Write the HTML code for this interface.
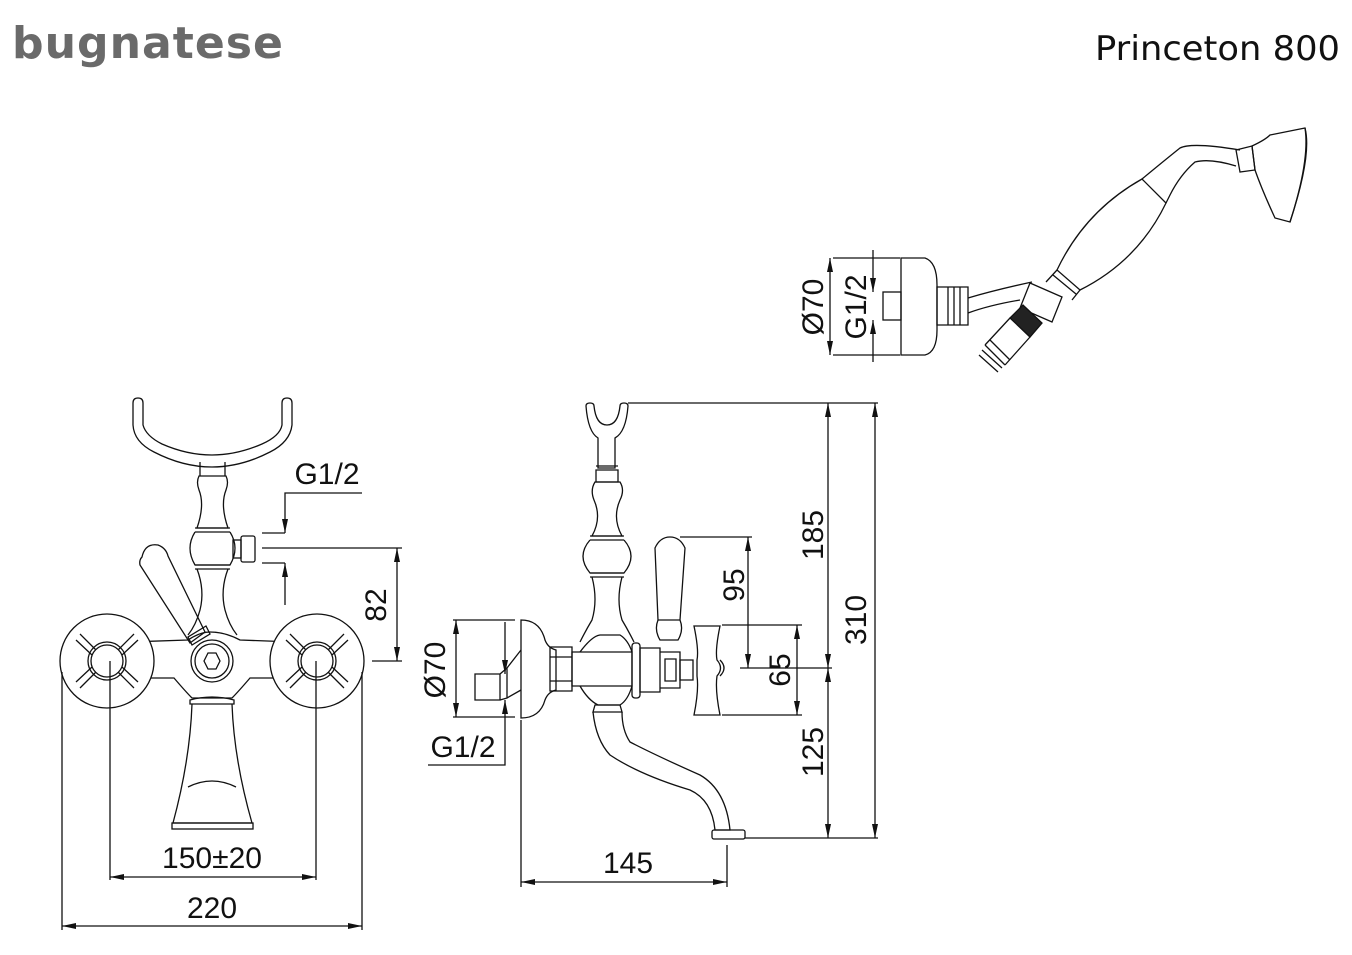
<!DOCTYPE html>
<html><head><meta charset="utf-8"><style>
html,body{margin:0;padding:0;background:#fff;width:1352px;height:955px;overflow:hidden}
svg{display:block}
.t{font-family:"Liberation Sans",Arial,sans-serif;font-size:30px;fill:#111}
</style></head><body>
<svg width="1352" height="955" viewBox="0 0 1352 955" xmlns="http://www.w3.org/2000/svg">
<defs>
<marker id="a" viewBox="0 0 14 6" refX="14" refY="3" markerWidth="14" markerHeight="6" orient="auto-start-reverse" markerUnits="userSpaceOnUse"><path d="M0,0 L14,3 L0,6 Z" fill="#111"/></marker>
</defs>
<text x="12" y="58" style="font-family:'DejaVu Sans','Liberation Sans',sans-serif;font-size:44px;font-weight:bold;fill:#6a6a6a;letter-spacing:1px" textLength="272" lengthAdjust="spacingAndGlyphs">bugnatese</text>
<text x="1095" y="60" style="font-family:'DejaVu Sans','Liberation Sans',sans-serif;font-size:34px;fill:#111" textLength="245" lengthAdjust="spacingAndGlyphs">Princeton 800</text>

<g fill="none" stroke="#111" stroke-width="1.3">
<!-- LEFT VIEW -->
<path d="M133,403 Q133,398 138,398 Q143,398 143,403 L143,425 Q146,436 162,444 Q212,466 262,444 Q280,436 282,425 L282,403 Q282,398 287,398 Q292,398 292,403 L292,425 Q290,442 270,452 Q212,482 154,452 Q134,442 133,425 Z"/>
<path d="M200,462 L200,476 M225,462 L225,476"/>
<path d="M199,476 L226,476 Q229,482 226,490 Q220,505 228,528 L197,528 Q205,505 199,490 Q196,482 199,476Z"/>
<path d="M195,528 L230,528 M195,532 L230,532"/>
<path d="M195,532 Q185,548 195,565 L230,565 Q240,548 230,532"/>
<path d="M195,565 L230,565 M195,569 L230,569"/>
<path d="M197,569 Q205,590 200,610 Q196,625 188,635 M228,569 Q220,590 225,610 Q229,625 237,635"/>
<rect x="233" y="540" width="8" height="18"/><rect x="241" y="536" width="14" height="26" rx="2"/>
<path d="M142,557 Q145,543 158,545 Q166,548 168,556 L205,632 L190,643 L140,565 Q139,560 142,557Z"/>
<path d="M188,637 L206,626 L210,634 L192,645Z"/>
<path d="M100,643 L188,640 Q200,632 210,632 Q225,632 240,640 L320,643 L320,678 L250,678 Q238,692 232,698 L192,698 Q186,692 174,678 L100,678 Z"/>
<circle cx="212" cy="661" r="21"/><circle cx="212" cy="661" r="17"/>
<path d="M204,661 L208,653 L216,653 L220,661 L216,669 L208,669Z"/>
<circle cx="107" cy="661" r="47" fill="#fff"/><circle cx="317" cy="661" r="47" fill="#fff"/>
<g id="cr">
<path d="M80,634 L96,650 M76,640 L92,655 M134,634 L118,650 M138,640 L122,655 M80,688 L96,672 M76,682 L92,667 M134,688 L118,672 M138,682 L122,667"/>
<circle cx="107" cy="661" r="19"/><circle cx="107" cy="661" r="16"/>
</g>
<use href="#cr" transform="translate(210,0)"/>
<path d="M190,700 Q212,694 234,700 L234,704 L190,704Z"/>
<path d="M192,704 Q190,760 173,823 L252,823 Q234,760 232,704"/>
<path d="M188,787 Q212,775 236,787"/>
<rect x="172" y="823" width="81" height="6"/>
<!-- left dims -->
<path d="M62,672 L62,930 M110,661 L110,880 M316,661 L316,880 M362,672 L362,930"/>
<path d="M110,877 L316,877" marker-start="url(#a)" marker-end="url(#a)"/>
<path d="M62,926 L362,926" marker-start="url(#a)" marker-end="url(#a)"/>
<path d="M262,548 L402,548 M372,661 L402,661"/>
<path d="M397,548 L397,661" marker-start="url(#a)" marker-end="url(#a)"/>
<path d="M262,533 L285,533 M262,563 L285,563"/>
<path d="M362,493 L285,493 L285,533" marker-end="url(#a)"/>
<path d="M285,605 L285,563" marker-end="url(#a)"/>

<!-- MIDDLE VIEW -->
<path d="M586,406 Q586,403 590,403 Q594,403 594,406 Q596,425 607,425 Q618,425 620,406 Q620,403 624,403 Q628,403 628,406 Q626,432 615,438 L615,468 L598,468 L598,438 Q588,432 586,406Z"/>
<path d="M596,466 L618,466 M596,470 L618,470 L618,482 L596,482 Z"/>
<path d="M595,482 L620,482 Q625,490 620,500 Q612,518 622,536 L592,536 Q602,518 594,500 Q590,490 595,482Z"/>
<path d="M590,536 L624,536 M590,540 L624,540"/>
<path d="M590,540 Q576,556 590,573 L624,573 Q638,556 624,540"/>
<path d="M590,573 L624,573 M590,577 L624,577"/>
<path d="M592,577 Q598,600 592,620 Q586,630 580,642 M622,577 Q616,600 622,620 Q628,630 634,642"/>
<path d="M521,620 Q540,620 545,640 Q548,648 556,650 L556,690 Q548,692 545,700 Q540,718 521,718 Z"/>
<path d="M550,647 L572,647 L572,691 L550,691 Z M550,657 L572,657 M550,681 L572,681"/>
<path d="M572,652 L632,652 L632,686 L572,686 Z"/>
<path d="M580,652 Q592,636 600,635 L620,635 Q628,640 632,652 M580,686 Q588,700 598,705 L620,705 Q628,700 632,686"/>
<path d="M595,705 L620,705 L622,712 L593,712 Z"/>
<path d="M593,712 Q596,740 610,755 Q640,775 690,790 Q712,800 715,830 L730,830 Q726,790 700,775 Q655,755 630,742 Q622,730 622,712"/>
<rect x="712" y="830" width="33" height="9" rx="2"/>
<rect x="632" y="643" width="8" height="55" rx="3"/>
<path d="M640,648 L660,648 L660,692 L640,692 Z M660,652 L680,652 L680,688 L660,688 Z M665,659 L676,659 L676,681 L665,681 Z"/>
<path d="M680,660 L693,660 L693,680 L680,680Z"/>
<path d="M694,626 L720,626 Q715,650 717,660 Q724,668 717,676 Q715,690 720,715 L694,715 Q699,690 697,676 L697,660 Q699,650 694,626Z"/>
<path d="M720,660 Q728,668 720,676"/>
<path d="M655,548 Q660,537 670,537 Q680,537 685,548 L680,620 Q684,630 678,640 L660,640 Q654,630 658,620 Z"/>
<path d="M658,620 L680,620"/>
<path d="M475,674 L500,674 L500,700 L475,700 Z M500,674 L507,668 L521,650 M500,700 L507,698 L521,690 M507,668 L507,698"/>
<!-- middle dims -->
<path d="M628,403 L878,403"/>
<path d="M828,403 L828,668" marker-start="url(#a)" marker-end="url(#a)"/>
<path d="M828,668 L828,838" marker-start="url(#a)" marker-end="url(#a)"/>
<path d="M875,403 L875,838" marker-start="url(#a)" marker-end="url(#a)"/>
<path d="M745,838 L878,838"/>
<path d="M680,537 L752,537 M740,668 L832,668"/>
<path d="M748,537 L748,668" marker-start="url(#a)" marker-end="url(#a)"/>
<path d="M722,625 L802,625 M722,715 L802,715"/>
<path d="M797,625 L797,715" marker-start="url(#a)" marker-end="url(#a)"/>
<path d="M453,620 L515,620 M453,717 L515,717"/>
<path d="M456,620 L456,717" marker-start="url(#a)" marker-end="url(#a)"/>
<path d="M505,622 L505,674" marker-end="url(#a)"/>
<path d="M428,765 L505,765 L505,700" marker-end="url(#a)"/>
<path d="M521,720 L521,887 M727,845 L727,887"/>
<path d="M521,882 L727,882" marker-start="url(#a)" marker-end="url(#a)"/>

<!-- SHOWER -->
<path d="M901,258 L925,258 Q937,262 937,285 L937,330 Q937,352 925,355 L901,355 Z"/>
<rect x="883" y="292" width="18" height="28"/>
<path d="M937,287 L968,287 L968,325 L937,325 Z M948,287 L948,325 M954,287 L954,325 M960,287 L960,325"/>
<path d="M968,298 Q995,290 1032,282 M968,313 Q990,305 1020,300"/>
<path d="M1030,283 L1062,297 L1052,322 L1020,308 Z"/>
<path d="M1010,318 L1023,305 L1042,323 L1030,337 Z" fill="#222"/>
<path d="M1010,318 L985,345 M1030,337 L1005,365"/>
<path d="M985,345 L1005,365 M982,350 L1002,368 M979,355 L998,372 M990,340 L1010,360" />
<path d="M1142,179 L1166,203 Q1138,261 1080,290 L1057,270 Q1085,211 1142,179 Z"/>
<path d="M1057,270 L1046,282 M1080,290 L1072,300 M1053,275 L1076,294"/>
<path d="M1142,179 Q1165,160 1180,148 Q1192,142 1240,150 M1166,203 L1170,195 Q1180,175 1195,162 Q1210,158 1236,166"/>
<path d="M1236,150 L1252,146 L1255,170 L1240,172 Z"/>
<path d="M1252,146 Q1265,140 1270,135 L1305,128 Q1312,155 1290,222 L1275,218 Q1262,190 1255,170 Z"/>
<path d="M1305,128 Q1310,160 1290,222"/>
<!-- shower dims -->
<path d="M833,258 L900,258 M833,355 L900,355"/>
<path d="M830,258 L830,355" marker-start="url(#a)" marker-end="url(#a)"/>
<path d="M873,250 L873,292" marker-end="url(#a)"/>
<path d="M873,362 L873,320" marker-end="url(#a)"/>
</g>

<g class="t">
<text x="212" y="868" text-anchor="middle">150±20</text>
<text x="212" y="918" text-anchor="middle">220</text>
<text x="327" y="484" text-anchor="middle">G1/2</text>
<text transform="translate(386,605) rotate(-90)" text-anchor="middle">82</text>
<text x="628" y="873" text-anchor="middle">145</text>
<text x="463" y="757" text-anchor="middle">G1/2</text>
<text transform="translate(445,670) rotate(-90)" text-anchor="middle">Ø70</text>
<text transform="translate(744,585) rotate(-90)" text-anchor="middle">95</text>
<text transform="translate(790,670) rotate(-90)" text-anchor="middle">65</text>
<text transform="translate(823,535) rotate(-90)" text-anchor="middle">185</text>
<text transform="translate(866,620) rotate(-90)" text-anchor="middle">310</text>
<text transform="translate(823,752) rotate(-90)" text-anchor="middle">125</text>
<text transform="translate(823,307) rotate(-90)" text-anchor="middle">Ø70</text>
<text transform="translate(866,307) rotate(-90)" text-anchor="middle">G1/2</text>
</g>
</svg>
</body></html>
